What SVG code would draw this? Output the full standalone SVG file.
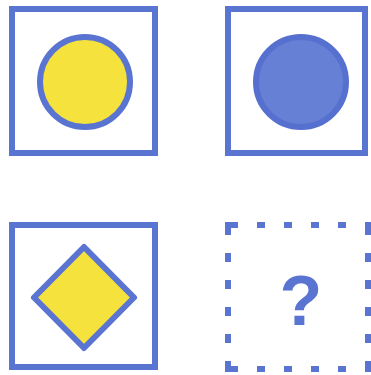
<svg xmlns="http://www.w3.org/2000/svg" width="371" height="375" viewBox="0 0 371 375">
  <style>
    .frame { fill: #ffffff; stroke: #5a74d2; stroke-width: 6; }
    .yellow { fill: #f6e23c; stroke: #5a74d2; stroke-width: 6; stroke-linejoin: round; }
    .bluefill { fill: #6680d6; stroke: #5670d0; stroke-width: 6; }
    .dash { fill: none; stroke: #5a74d2; stroke-width: 6; stroke-linecap: butt; }
    .h { stroke-dasharray: 13 19 8 19 8 19 8 19 8 19 6 10; }
    .v { stroke-dasharray: 13 18 9 18 9 18 9 18 9 18 10 10; }
    .q { font-family: "Liberation Sans", Arial, sans-serif; font-weight: bold; font-size: 70px; fill: #5a74d2; }
  </style>
  <rect width="371" height="375" fill="#ffffff"/>
  <g id="panel-yellow-circle">
    <rect class="frame" x="12" y="9" width="143" height="144"/>
    <circle class="yellow" cx="85" cy="82" r="45"/>
  </g>
  <g id="panel-blue-circle">
    <rect class="frame" x="228" y="9" width="137" height="144"/>
    <circle class="bluefill" cx="301" cy="82" r="45"/>
  </g>
  <g id="panel-yellow-diamond">
    <rect class="frame" x="12" y="225" width="143" height="142"/>
    <polygon class="yellow" points="84,247 134,297.5 84,348 34,297.5"/>
  </g>
  <g id="panel-unknown">
    <line class="dash h" x1="225" y1="225" x2="371" y2="225"/>
    <line class="dash h" x1="225" y1="369" x2="371" y2="369"/>
    <line class="dash v" x1="228" y1="222" x2="228" y2="372"/>
    <line class="dash v" x1="368" y1="222" x2="368" y2="372"/>
    <text class="q" x="301" y="325" text-anchor="middle">?</text>
  </g>
</svg>
